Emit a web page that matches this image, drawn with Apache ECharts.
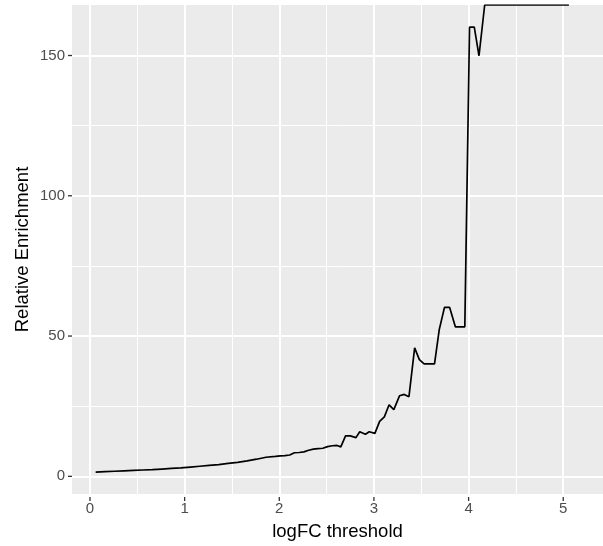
<!DOCTYPE html>
<html>
<head>
<meta charset="utf-8">
<script src="https://cdn.jsdelivr.net/npm/echarts@6/dist/echarts.min.js"></script>
<style>html,body{margin:0;padding:0;background:#fff}#c{width:603px;height:546px}</style>
</head>
<body>
<div id="c"></div>
<script>
// logFC thresholds (x) and relative enrichment (y)
const thresholds = [0.06,0.16,0.26,0.36,0.46,0.56,0.66,0.76,0.86,0.96,
  1.06,1.16,1.26,1.36,1.46,1.56,1.66,1.76,1.86,1.96,
  2.01,2.06,2.11,2.16,2.21,2.26,2.31,2.36,2.41,2.46,2.51,2.56,2.61,
  2.65,2.70,2.75,2.81,2.85,2.91,2.95,3.01,
  3.06,3.11,3.16,3.21,3.27,3.32,3.37,3.43,3.48,3.53,3.59,3.64,3.69,3.745,3.80,3.86,3.91,3.96,4.01,4.06,4.11,4.17,4.5,5.06];
const enrichment = [1.5,1.65,1.8,1.95,2.1,2.25,2.4,2.6,2.8,3.0,
  3.3,3.6,3.9,4.2,4.6,5.0,5.5,6.1,6.8,7.1,
  7.3,7.4,7.6,8.4,8.5,8.7,9.3,9.7,9.9,10.0,10.6,10.9,11.0,
  10.5,14.4,14.4,13.8,15.9,15.0,15.9,15.3,
  19.6,21.2,25.5,23.8,28.7,29.2,28.4,45.8,41.6,40.1,40.1,40.1,52.3,60.2,60.2,53.3,53.3,53.3,160.1,160.1,149.9,168,168,168];

const xTicks = [0,1,2,3,4,5];
const xMinor = [0.5,1.5,2.5,3.5,4.5];
const yTicks = [0,50,100,150];
const yMinor = [25,75,125];

const xRange = [-0.19, 5.42];
const yRange = [-6.3, 168];

const chart = echarts.init(document.getElementById('c'), null, {renderer:'canvas'});

const major = {color:'#ffffff', width:2, type:'solid'};
const minor = {color:'#ffffff', width:1, type:'solid'};
const gridLines = []
  .concat(xMinor.map(v => ({xAxis:v, lineStyle:minor})))
  .concat(yMinor.map(v => ({yAxis:v, lineStyle:minor})))
  .concat(xTicks.map(v => ({xAxis:v, lineStyle:major})))
  .concat(yTicks.map(v => ({yAxis:v, lineStyle:major})));

const font = 'Liberation Sans, Arial, Helvetica, sans-serif';
const G = {left:72, right:0, top:5, bottom:49};

chart.setOption({
  animation:false,
  backgroundColor:'#ffffff',
  grid:{left:G.left, right:G.right, top:G.top, bottom:G.bottom, show:true, backgroundColor:'#EBEBEB', borderWidth:0},
  xAxis:{
    type:'value', min:xRange[0], max:xRange[1],
    name:'logFC threshold', nameLocation:'middle', nameGap:28, nameMoveOverlap:false,
    nameTextStyle:{fontFamily:font, fontSize:18.5, color:'#000'},
    axisLine:{show:false},
    axisTick:{show:false},
    axisLabel:{show:true, customValues:xTicks, margin:7, fontFamily:font, fontSize:15, color:'#4D4D4D'},
    splitLine:{show:false}
  },
  yAxis:{
    type:'value', min:yRange[0], max:yRange[1],
    name:'Relative Enrichment', nameLocation:'middle', nameGap:40, nameRotate:90, nameMoveOverlap:false,
    nameTextStyle:{fontFamily:font, fontSize:18.5, color:'#000'},
    axisLine:{show:false},
    axisTick:{show:false},
    axisLabel:{show:true, customValues:yTicks, margin:7, fontFamily:font, fontSize:15, color:'#4D4D4D'},
    splitLine:{show:false}
  },
  series:[
    {
      type:'line', data:[], silent:true, z:1,
      markLine:{silent:true, symbol:['none','none'], label:{show:false}, animation:false, z:1, data:gridLines}
    },
    {
      type:'line', z:5, clip:true, showSymbol:false, symbol:'none',
      data: thresholds.map((x,i) => [x, enrichment[i]]),
      lineStyle:{color:'#000', width:1.7}
    }
  ]
});

// axis tick marks, positioned through the chart's own scales
const H = 546;
const bottomY = H - G.bottom, leftX = G.left;
const tickStyle = {stroke:'#333333', lineWidth:1.3};
const ticks = [];
xTicks.forEach(v => {
  const px = chart.convertToPixel({xAxisIndex:0}, v);
  ticks.push({type:'line', silent:true, z:10, shape:{x1:px, y1:bottomY, x2:px, y2:bottomY + 4}, style:tickStyle});
});
yTicks.forEach(v => {
  const py = chart.convertToPixel({yAxisIndex:0}, v);
  ticks.push({type:'line', silent:true, z:10, shape:{x1:leftX - 4, y1:py, x2:leftX, y2:py}, style:tickStyle});
});
chart.setOption({graphic:ticks});
</script>
</body>
</html>
